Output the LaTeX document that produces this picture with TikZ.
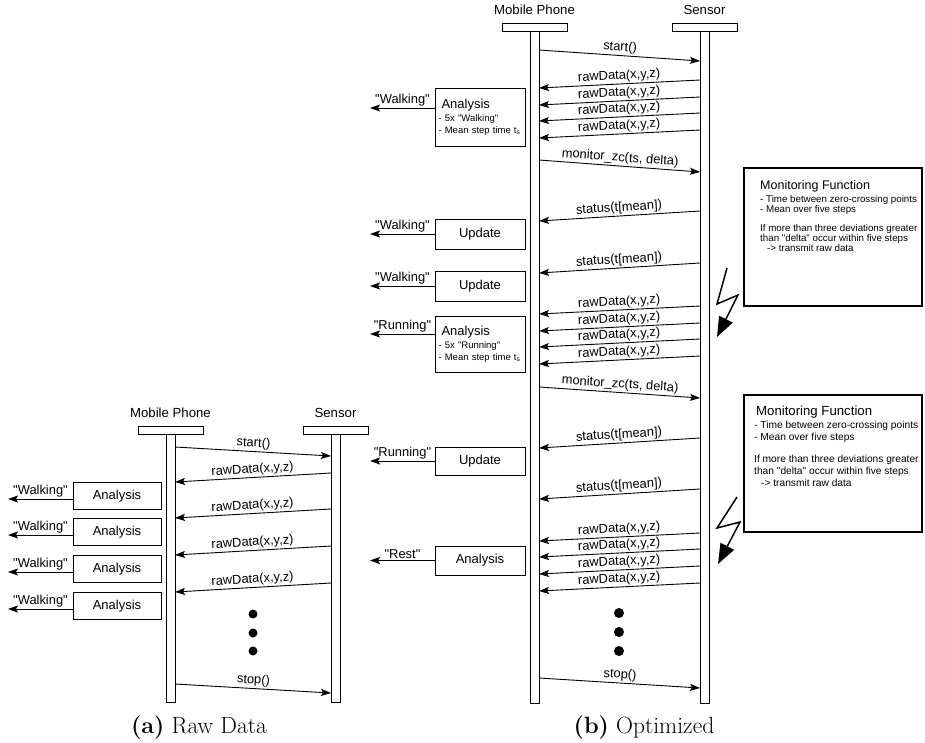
\documentclass[tikz,border=0pt]{standalone}
\usepackage{fontspec}
\newfontfamily\arialfont{Liberation Sans}
\usetikzlibrary{arrows.meta,positioning}

\tikzset{
  lifeline/.style={draw,rectangle,minimum width=9pt,inner sep=0pt,outer sep=0pt,anchor=north,line width=0.9pt},
  lifehead/.style={draw,rectangle,minimum width=65pt,minimum height=8pt,inner sep=0pt,outer sep=0pt,line width=0.9pt},
  actor/.style={inner sep=0pt,font=\arialfont\fontsize{13.2}{15}\selectfont},
  msg/.style={-{Stealth[length=10pt,width=7pt,inset=2pt]},line width=0.9pt},
  lbl/.style={midway,above,sloped,inner sep=1.5pt,font=\arialfont\fontsize{12.9}{14}\selectfont},
  sidebox/.style={draw,rectangle,anchor=north west,minimum width=90pt,inner sep=0pt,outer sep=0pt,line width=0.9pt,align=center,font=\arialfont\fontsize{13}{15}\selectfont},
  notebox/.style={sidebox,minimum height=58pt,text width=83pt,align=left,font=\arialfont\fontsize{9.5}{12}\selectfont},
  monbox/.style={draw,rectangle,anchor=north west,minimum width=178pt,inner sep=0pt,outer sep=0pt,line width=2pt},
  montext/.style={inner sep=0pt,align=left,anchor=north west},
  bolt/.style={line width=1.5pt,-{Triangle[length=20pt,width=15pt]}},
  caption/.style={anchor=base,inner sep=0pt,font=\fontsize{23.5}{28}\selectfont}
}

\begin{document}
\begin{tikzpicture}[x=1pt,y=-1pt]
\useasboundingbox (0,0) rectangle (925,742);

% (a) raw data
\node[lifeline,minimum height=268pt] (pa) at (170.5,434) {};
\node[lifehead,above=0pt of pa] (hpa) {};
\node[actor,above=8pt of hpa] (tpa) {Mobile Phone};
\node[lifeline,minimum height=268pt] (sa) at (335.5,434) {};
\node[lifehead,above=0pt of sa] (hsa) {};
\node[actor,above=8pt of hsa] (tsa) {Sensor};

\draw[msg] (pa.east |- 0,447) -- (sa.west |- 0,456) node[lbl] {start()};
\foreach \y/\n in {473/1,509/2,546/3,583/4}{
  \draw[msg] (sa.west |- 0,\y) -- (pa.east |- 0,\y+9) node[lbl] {rawData(x,y,z)};
  \node[sidebox,minimum width=88pt,minimum height=27.5pt] (ana\n) at (73,\y+9) {Analysis};
  \draw[msg] (ana\n.west |- 0,\y+26) -- ++(-65,0) node[lbl] {"Walking"};
}
\foreach \y in {614,633,651} \fill (253,\y) circle (4.5pt);
\draw[msg] (pa.east |- 0,684) -- (sa.west |- 0,693) node[lbl] {stop()};

\node[caption] (capa) at (199,733) {\textbf{(a)} Raw Data};

% (b) optimized
\node[lifeline,minimum height=672pt] (pb) at (534.5,31) {};
\node[lifehead,above=0pt of pb] (hpb) {};
\node[actor,above=8pt of hpb] (tpb) {Mobile Phone};
\node[lifeline,minimum height=672pt] (sb) at (704.5,31) {};
\node[lifehead,above=0pt of sb] (hsb) {};
\node[actor,above=8pt of hsb] (tsb) {Sensor};

\draw[msg] (pb.east |- 0,50) -- (sb.west |- 0,61) node[lbl] {start()};
\foreach \y in {80,97,113,130,306,323,339,356,533,549,566,583}
  \draw[msg] (sb.west |- 0,\y) -- (pb.east |- 0,\y+8) node[lbl] {rawData(x,y,z)};
\draw[msg] (pb.east |- 0,160) -- (sb.west |- 0,172) node[lbl] {monitor\_zc(ts, delta)};
\draw[msg] (pb.east |- 0,387) -- (sb.west |- 0,398) node[lbl] {monitor\_zc(ts, delta)};
\foreach \y in {211,263,438,489}
  \draw[msg] (sb.west |- 0,\y) -- (pb.east |- 0,\y+10) node[lbl] {status(t[mean])};
\foreach \y in {613,632,651} \fill (619,\y) circle (5pt);
\draw[msg] (pb.east |- 0,678) -- (sb.west |- 0,688) node[lbl] {stop()};

\node[notebox] (anb1) at (435,88) {{\fontsize{13}{15}\selectfont\hspace{3pt}Analysis}\\[1pt]
  - 5x "Walking"\\- Mean step time t\textsubscript{s}};
\draw[msg] (anb1.west |- 0,108) -- ++(-65,0) node[lbl] {"Walking"};
\node[sidebox,minimum height=30pt] (upb1) at (435,219) {Update};
\draw[msg] (upb1.west) -- ++(-65,0) node[lbl] {"Walking"};
\node[sidebox,minimum height=30pt] (upb2) at (435,271) {Update};
\draw[msg] (upb2.west) -- ++(-65,0) node[lbl] {"Walking"};
\node[notebox,minimum height=56pt] (anb2) at (435,316) {{\fontsize{13}{15}\selectfont\hspace{3pt}Analysis}\\[1pt]
  - 5x "Running"\\- Mean step time t\textsubscript{s}};
\draw[msg] (anb2.west |- 0,334) -- ++(-65,0) node[lbl] {"Running"};
\node[sidebox,minimum height=28pt] (upb3) at (435,447) {Update};
\draw[msg] (upb3.west) -- ++(-65,0) node[lbl] {"Running"};
\node[sidebox,minimum height=29pt] (anb3) at (435,546) {Analysis};
\draw[msg] (anb3.west) -- ++(-65,0) node[lbl] {"Rest"};

\node[monbox,minimum height=138pt] (mon1) at (744,168) {};
\node[montext,below right=12pt and 16pt of mon1.north west,font=\arialfont\fontsize{9.75}{10}\selectfont] (mtx1)
  {{\fontsize{12.5}{14}\selectfont Monitoring Function}\\[3pt]- Time between zero-crossing points\\- Mean over five steps\\[9pt]If more than three deviations greater\\than "delta" occur within five steps\\\hspace{7pt}-> transmit raw data};
\node[monbox,minimum height=137pt] (mon2) at (744,395) {};
\node[montext,below right=11pt and 10pt of mon2.north west,font=\arialfont\fontsize{10.2}{12}\selectfont] (mtx2)
  {{\fontsize{13.2}{15}\selectfont\hspace{2pt}Monitoring Function}\\[1pt]- Time between zero-crossing points\\- Mean over five steps\\[10pt]If more than three deviations greater\\than "delta" occur within five steps\\\hspace{7pt}-> transmit raw data};

\draw[bolt] (727,268) -- (717,304) -- (738,295) -- (717,337);
\draw[bolt] (737,497) -- (717,528) -- (740,522) -- (718,564);

\node[caption] (capb) at (644,733) {\textbf{(b)} Optimized};
\end{tikzpicture}
\end{document}
